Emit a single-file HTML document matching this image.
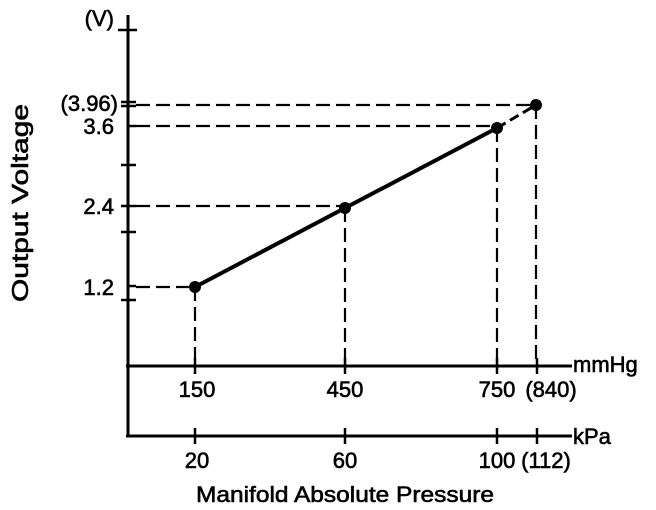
<!DOCTYPE html>
<html><head><style>body{margin:0;background:#fff}svg{display:block}text{font-family:"Liberation Sans",sans-serif;fill:#000;stroke:#000;stroke-width:0.6}</style></head>
<body>
<svg width="656" height="510" viewBox="0 0 656 510">
<g stroke="#000" fill="none">
<line x1="128" y1="15" x2="128" y2="437" stroke-width="3"/>
<line x1="126" y1="366" x2="572" y2="366" stroke-width="3"/>
<line x1="126" y1="436" x2="572" y2="436" stroke-width="3"/>
<g stroke-width="2.5">
<line x1="118" y1="30" x2="137" y2="30"/>
<line x1="121" y1="102" x2="136" y2="102"/><line x1="121" y1="106" x2="136" y2="106"/>
<line x1="128" y1="126" x2="136" y2="126"/>
<line x1="121" y1="165" x2="136" y2="165"/>
<line x1="121" y1="206" x2="136" y2="206"/>
<line x1="121" y1="232" x2="136" y2="232"/>
<line x1="128" y1="286" x2="136" y2="286"/>
<line x1="121" y1="300" x2="136" y2="300"/>
<line x1="195" y1="358" x2="195" y2="374"/>
<line x1="345" y1="358" x2="345" y2="374"/>
<line x1="497" y1="358" x2="497" y2="374"/>
<line x1="537" y1="358" x2="537" y2="374"/>
<line x1="195" y1="428" x2="195" y2="444"/>
<line x1="345" y1="428" x2="345" y2="444"/>
<line x1="497" y1="428" x2="497" y2="444"/>
<line x1="537" y1="428" x2="537" y2="444"/>
</g>
<g stroke-width="2.2" stroke-dasharray="14,6">
<line x1="136" y1="105" x2="536" y2="105"/>
<line x1="136" y1="126" x2="497" y2="126"/>
<line x1="136" y1="206" x2="345" y2="206"/>
<line x1="136" y1="287" x2="195" y2="287"/>
<line x1="195" y1="287" x2="195" y2="366"/>
<line x1="345" y1="208" x2="345" y2="366"/>
<line x1="497" y1="128" x2="497" y2="366"/>
<line x1="536" y1="105" x2="536" y2="366"/>
<line x1="497" y1="128" x2="536" y2="105" stroke-dasharray="10,5" stroke-width="3"/>
</g>
<line x1="195" y1="287" x2="497" y2="128" stroke-width="4"/>
</g>
<g fill="#000"><circle cx="195" cy="287" r="6"/><circle cx="345" cy="208" r="6"/><circle cx="497" cy="128" r="6"/><circle cx="536" cy="105" r="6"/></g>
<g font-size="22" text-anchor="end">
<text x="114" y="26">(V)</text>
<text x="118" y="111">(3.96)</text>
<text x="114" y="134">3.6</text>
<text x="114" y="214">2.4</text>
<text x="114" y="295">1.2</text>
</g>
<g font-size="22" text-anchor="middle">
<text x="197" y="397">150</text>
<text x="345" y="397">450</text>
<text x="497" y="397">750</text>
<text x="551" y="397">(840)</text>
<text x="197" y="468">20</text>
<text x="345" y="468">60</text>
<text x="497" y="468">100</text>
<text x="546" y="468">(112)</text>
</g>
<text x="573" y="372" font-size="22">mmHg</text>
<text x="573" y="444" font-size="22">kPa</text>
<text x="345" y="502" font-size="22" stroke-width="0.7" text-anchor="middle" textLength="298" lengthAdjust="spacingAndGlyphs">Manifold Absolute Pressure</text>
<text transform="translate(28,203) rotate(-90)" font-size="23" stroke-width="0.9" text-anchor="middle" textLength="198" lengthAdjust="spacingAndGlyphs">Output Voltage</text>
</svg>
</body></html>
